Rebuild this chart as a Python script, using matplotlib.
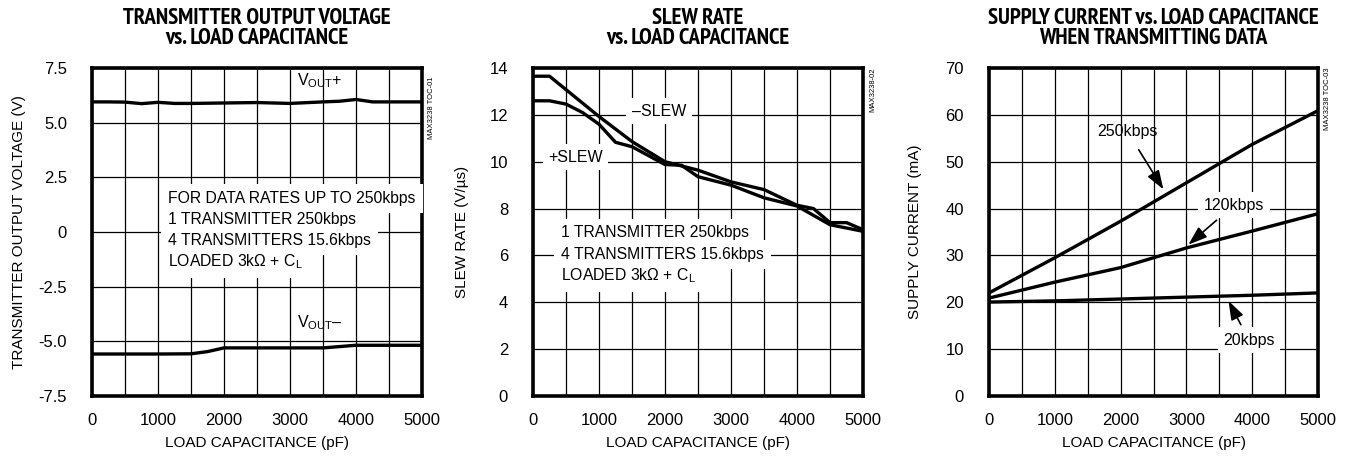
import numpy as np
import matplotlib
matplotlib.use('Agg')
import matplotlib.pyplot as plt

plt.rcParams['font.family'] = ['Liberation Sans', 'DejaVu Sans']
plt.rcParams['mathtext.fontset'] = 'custom'
plt.rcParams['mathtext.rm'] = 'Liberation Sans'
plt.rcParams['mathtext.it'] = 'Liberation Sans'

# --- data ---
cap_vp = [0, 250, 500, 750, 1000, 1250, 1500, 2000, 2500, 3000, 3500, 3750, 4000, 4250, 4500, 5000]
vout_pos = [5.95, 5.95, 5.94, 5.87, 5.93, 5.88, 5.88, 5.9, 5.92, 5.88, 5.95, 5.98, 6.06, 5.95, 5.95, 5.95]
cap_vn = [0, 500, 1000, 1500, 1750, 2000, 2500, 3000, 3500, 4000, 4500, 5000]
vout_neg = [-5.58, -5.58, -5.58, -5.57, -5.47, -5.3, -5.3, -5.3, -5.3, -5.18, -5.18, -5.18]

cap_sn = [0, 250, 1000, 1500, 2000, 2500, 3000, 3500, 4000, 4250, 4500, 4750, 5000]
slew_neg = [13.65, 13.65, 11.93, 10.86, 10.0, 9.64, 9.14, 8.81, 8.14, 8.0, 7.4, 7.4, 7.1]
cap_sp = [0, 250, 500, 750, 1000, 1250, 1500, 2000, 2250, 2500, 3000, 3500, 4000, 4500, 5000]
slew_pos = [12.6, 12.6, 12.46, 12.1, 11.6, 10.83, 10.64, 9.88, 9.85, 9.36, 9.0, 8.46, 8.11, 7.31, 7.03]

cap_i = [0, 1000, 2000, 3000, 4000, 5000]
i_250k = [22.0, 29.5, 37.3, 45.5, 53.7, 60.9]
i_120k = [20.9, 24.3, 27.4, 31.6, 35.2, 38.9]
i_20k = [20.05, 20.3, 20.7, 21.1, 21.5, 22.0]

fig = plt.figure(figsize=(13.46, 4.57), dpi=100)
W, H = 1346, 457

def make_ax(left, top, w, h):
    return fig.add_axes([left / W, (H - top - h) / H, w / W, h / H])

ax1 = make_ax(92, 68, 330, 328)
ax2 = make_ax(533, 68, 330, 328)
ax3 = make_ax(989, 68, 329, 328)

def style(ax, yticks, ylabels, ylabel, title, ylab_off, code, code_top):
    ax.set_xlim(0, 5000)
    ax.set_ylim(yticks[0], yticks[-1])
    ax.set_xticks(np.arange(0, 5001, 500), minor=True)
    ax.set_xticks([0, 1000, 2000, 3000, 4000, 5000])
    ax.set_yticks(yticks)
    ax.set_yticklabels(ylabels)
    ax.grid(True, which='both', axis='x', color='black', lw=0.9, zorder=0)
    ax.grid(True, which='major', axis='y', color='black', lw=0.9, zorder=0)
    ax.tick_params(which='both', length=0, labelsize=12)
    ax.tick_params(axis='x', pad=12)
    ax.tick_params(axis='y', pad=18)
    for s in ax.spines.values():
        s.set_linewidth(2.6)
    ax.set_axisbelow(True)
    ax.text(0.5, -0.143, 'LOAD CAPACITANCE (pF)', transform=ax.transAxes,
            ha='center', va='center', fontsize=11)
    ax.text(ylab_off, 0.5, ylabel, transform=ax.transAxes, rotation=90,
            ha='center', va='center', fontsize=11)
    ax.set_title(title, fontsize=16.5, fontweight='bold', pad=17, linespacing=0.98,
                 family=['PT Sans Narrow', 'Liberation Sans'])
    ax.text(1.03, code_top, code, transform=ax.transAxes, rotation=90,
            ha='center', va='top', fontsize=5.5)

# panel 1
style(ax1, [-7.5, -5, -2.5, 0, 2.5, 5, 7.5], ['-7.5', '-5.0', '-2.5', '0', '2.5', '5.0', '7.5'],
      'TRANSMITTER OUTPUT VOLTAGE (V)',
      'TRANSMITTER OUTPUT VOLTAGE\nvs. LOAD CAPACITANCE', -0.221, 'MAX3238 TOC-01', 0.973)
ax1.plot(cap_vp, vout_pos, color='black', lw=2.4, zorder=4)
ax1.plot(cap_vn, vout_neg, color='black', lw=2.4, zorder=4)
ax1.text(3100, 6.9, r'V$_{\mathregular{OUT}}$+', fontsize=11.5, va='center', zorder=3)
ax1.text(3100, -4.15, r'V$_{\mathregular{OUT}}$–', fontsize=11.5, va='center', zorder=3)
notes1 = ['FOR DATA RATES UP TO 250kbps', '1 TRANSMITTER 250kbps',
          '4 TRANSMITTERS 15.6kbps', r'LOADED 3kΩ + C$_{\mathregular{L}}$']
for k, s in enumerate(notes1):
    ax1.text(1155, 1.55 - k * 0.97, s, fontsize=11.3, va='center', zorder=3,
             bbox=dict(facecolor='white', edgecolor='none', pad=5))

# panel 2
style(ax2, [0, 2, 4, 6, 8, 10, 12, 14], ['0', '2', '4', '6', '8', '10', '12', '14'],
      'SLEW RATE (V/µs)', 'SLEW RATE\nvs. LOAD CAPACITANCE', -0.215, 'MAX3238-02', 1.0)
ax2.plot(cap_sn, slew_neg, color='black', lw=2.4, zorder=4)
ax2.plot(cap_sp, slew_pos, color='black', lw=2.4, zorder=4)
ax2.text(1500, 12.15, '–SLEW', fontsize=11.5, va='center', zorder=3,
         bbox=dict(facecolor='white', edgecolor='none', pad=4))
ax2.text(230, 10.2, '+SLEW', fontsize=11.5, va='center', zorder=3,
         bbox=dict(facecolor='white', edgecolor='none', pad=4))
notes2 = ['1 TRANSMITTER 250kbps', '4 TRANSMITTERS 15.6kbps', r'LOADED 3kΩ + C$_{\mathregular{L}}$']
for k, s in enumerate(notes2):
    ax2.text(424, 6.96 - k * 0.92, s, fontsize=11.3, va='center', zorder=3,
             bbox=dict(facecolor='white', edgecolor='none', pad=5))

# panel 3
style(ax3, [0, 10, 20, 30, 40, 50, 60, 70], ['0', '10', '20', '30', '40', '50', '60', '70'],
      'SUPPLY CURRENT (mA)', 'SUPPLY CURRENT vs. LOAD CAPACITANCE\nWHEN TRANSMITTING DATA',
      -0.225, 'MAX3238 TOC-03', 1.0)
ax3.plot(cap_i, i_250k, color='black', lw=2.4, zorder=4)
ax3.plot(cap_i, i_120k, color='black', lw=2.4, zorder=4)
ax3.plot(cap_i, i_20k, color='black', lw=2.4, zorder=4)
arrow = dict(arrowstyle='-|>,head_length=1.0,head_width=0.35', color='black', lw=1.2)
ax3.annotate('250kbps', xy=(2650, 44.1), xytext=(2100, 56.5), fontsize=11.5,
             ha='center', va='center', arrowprops=dict(arrow, shrinkA=7, shrinkB=0), zorder=3)
ax3.annotate('120kbps', xy=(3030, 32.3), xytext=(3720, 40.7), fontsize=11.5,
             ha='center', va='center', bbox=dict(facecolor='white', edgecolor='none', pad=4),
             arrowprops=dict(arrow, shrinkA=2, shrinkB=0), zorder=3)
ax3.annotate('20kbps', xy=(3640, 20.3), xytext=(3950, 11.9), fontsize=11.5,
             ha='center', va='center', bbox=dict(facecolor='white', edgecolor='none', pad=4),
             arrowprops=dict(arrow, shrinkA=2, shrinkB=0), zorder=3)

fig.savefig('out.png', dpi=100)
